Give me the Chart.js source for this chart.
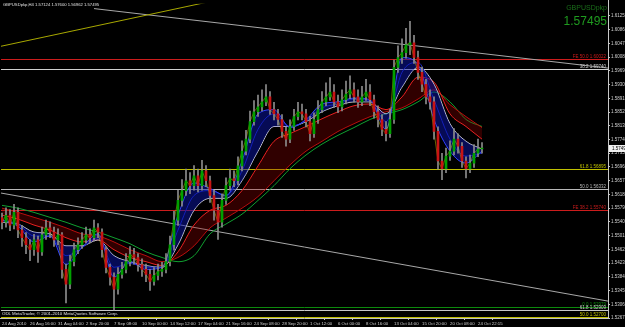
<!DOCTYPE html>
<html lang="en">
<head>
<meta charset="UTF-8">
<title>GBPUSDpkp,H4</title>
<script src="https://cdn.jsdelivr.net/npm/chart.js"></script>
<style>
  html, body { margin: 0; padding: 0; background: #000; }
  #wrap { position: relative; width: 625px; height: 327px; overflow: hidden; }
  .txt { position: absolute; font-family: "Liberation Sans", Arial, sans-serif; white-space: nowrap; line-height: 1; }
  #info { left: 3px; top: 3px; font-size: 4.2px; color: #e0e0e0; }
  #sym { right: 18px; top: 4px; font-size: 7px; color: #1a6e1a; }
  #last { right: 18px; top: 15px; font-size: 12px; color: #1f9a1f; }
  #copy { left: 2px; top: 312px; font-size: 4.4px; color: #e0e0e0; }
</style>
</head>
<body>
<div id="wrap">
  <canvas id="chart"></canvas>
  <div class="txt" id="info">GBPUSDpkp,H4 1.57124 1.57600 1.56962 1.57495</div>
  <div class="txt" id="sym">GBPUSDpkp</div>
  <div class="txt" id="last">1.57495</div>
  <div class="txt" id="copy">ODL MetaTrader, © 2001-2010 MetaQuotes Software Corp.</div>
</div>
<script>
// H4 candles, grouped (each slot ~ 2.3 bars)
const closes = [
  1.5539,1.5559,1.5531,1.5567,1.5517,1.5495,1.5475,1.5461,1.5489,1.5455,
  1.5503,1.5523,1.5511,1.5489,1.5503,1.5405,1.5363,1.5427,1.5461,1.5475,
  1.5489,1.5503,1.5495,1.5523,1.5511,1.5461,1.5411,1.5383,1.5349,1.5391,
  1.5405,1.5427,1.5447,1.5439,1.5419,1.5405,1.5391,1.5371,1.5388,1.5399,
  1.5405,1.5427,1.5475,1.5545,1.5601,1.5629,1.5657,1.5643,1.5671,1.5643,
  1.5685,1.5657,1.5615,1.5573,1.5539,1.5601,1.5643,1.5663,1.5657,1.5699,
  1.5741,1.5775,1.5825,1.5853,1.5867,1.5881,1.5895,1.5859,1.5847,1.5831,
  1.5797,1.5775,1.5811,1.5839,1.5853,1.5847,1.5825,1.5791,1.5831,1.5859,
  1.5881,1.5895,1.5909,1.5881,1.5867,1.5887,1.5903,1.5915,1.5895,1.5881,
  1.5895,1.5909,1.5887,1.5853,1.5831,1.5803,1.5791,1.5831,1.5979,1.6007,
  1.6021,1.6043,1.6049,1.6007,1.5965,1.5931,1.5895,1.5881,1.5797,1.5713,
  1.5691,1.5727,1.5741,1.5775,1.5755,1.5713,1.5691,1.5707,1.5735,1.5747,
  1.57495
];
const highs = [
  1.5565,1.5580,1.5575,1.5590,1.5580,1.5530,1.5510,1.5490,1.5505,1.5500,
  1.5525,1.5545,1.5540,1.5525,1.5520,1.5510,1.5420,1.5445,1.5480,1.5495,
  1.5510,1.5525,1.5520,1.5545,1.5535,1.5520,1.5470,1.5420,1.5395,1.5410,
  1.5425,1.5450,1.5470,1.5465,1.5450,1.5435,1.5420,1.5405,1.5410,1.5420,
  1.5425,1.5450,1.5500,1.5570,1.5630,1.5660,1.5690,1.5680,1.5700,1.5690,
  1.5715,1.5700,1.5670,1.5630,1.5590,1.5620,1.5665,1.5690,1.5685,1.5725,
  1.5770,1.5800,1.5855,1.5885,1.5900,1.5915,1.5930,1.5910,1.5880,1.5860,
  1.5845,1.5810,1.5830,1.5860,1.5880,1.5875,1.5860,1.5840,1.5850,1.5885,
  1.5910,1.5935,1.5950,1.5930,1.5900,1.5915,1.5940,1.5955,1.5935,1.5915,
  1.5925,1.5945,1.5930,1.5900,1.5870,1.5845,1.5825,1.5860,1.6000,1.6040,
  1.6060,1.6090,1.6110,1.6070,1.6025,1.5980,1.5945,1.5915,1.5895,1.5810,
  1.5735,1.5750,1.5770,1.5805,1.5790,1.5765,1.5725,1.5730,1.5760,1.5775,
  1.5765
];
const lows = [
  1.5520,1.5525,1.5515,1.5520,1.5495,1.5470,1.5450,1.5430,1.5445,1.5425,
  1.5445,1.5490,1.5495,1.5470,1.5475,1.5380,1.5310,1.5350,1.5415,1.5450,
  1.5465,1.5480,1.5480,1.5485,1.5495,1.5440,1.5395,1.5360,1.5290,1.5335,
  1.5380,1.5395,1.5415,1.5420,1.5400,1.5385,1.5370,1.5345,1.5360,1.5375,
  1.5385,1.5395,1.5415,1.5460,1.5530,1.5585,1.5615,1.5620,1.5630,1.5625,
  1.5630,1.5640,1.5595,1.5545,1.5490,1.5525,1.5590,1.5630,1.5640,1.5645,
  1.5685,1.5730,1.5765,1.5815,1.5840,1.5855,1.5870,1.5845,1.5830,1.5815,
  1.5780,1.5755,1.5765,1.5800,1.5830,1.5830,1.5810,1.5770,1.5780,1.5820,
  1.5850,1.5870,1.5885,1.5865,1.5850,1.5855,1.5875,1.5890,1.5880,1.5865,
  1.5870,1.5885,1.5870,1.5835,1.5810,1.5785,1.5770,1.5780,1.5820,1.5965,
  1.5990,1.6005,1.6015,1.5990,1.5945,1.5910,1.5875,1.5860,1.5775,1.5690,
  1.5660,1.5680,1.5715,1.5730,1.5735,1.5695,1.5665,1.5680,1.5695,1.5725,
  1.5735
];
const firstOpen = 1.5552;

// moving averages, read every 4th slot
const maBars = [0,4,8,12,16,20,24,28,32,36,40,44,48,52,56,60,64,68,72,76,80,84,88,92,96,100,104,108,112,116,120];
const blueFast = [1.5545,1.5528,1.5483,1.5500,1.5419,1.5467,1.5506,1.5383,1.5427,1.5405,1.5411,1.5559,1.5651,1.5635,1.5615,1.5713,1.5847,1.5859,1.5808,1.5831,1.5875,1.5881,1.5892,1.5887,1.5803,1.6007,1.5987,1.5831,1.5741,1.5707,1.5741];
const blueSlow = [1.5545,1.5534,1.5500,1.5500,1.5444,1.5467,1.5495,1.5411,1.5422,1.5411,1.5411,1.5517,1.5615,1.5629,1.5615,1.5685,1.5803,1.5847,1.5811,1.5828,1.5864,1.5875,1.5889,1.5884,1.5825,1.5965,1.5993,1.5887,1.5775,1.5727,1.5735];
const whiteMa = [1.5539,1.5534,1.5511,1.5506,1.5472,1.5472,1.5489,1.5444,1.5427,1.5416,1.5411,1.5475,1.5573,1.5607,1.5607,1.5657,1.5741,1.5811,1.5811,1.5825,1.5853,1.5870,1.5881,1.5881,1.5847,1.5923,1.5979,1.5931,1.5819,1.5769,1.5747];
const redFast = [1.5559,1.5548,1.5531,1.5517,1.5495,1.5483,1.5489,1.5461,1.5439,1.5427,1.5416,1.5455,1.5531,1.5573,1.5587,1.5629,1.5699,1.5769,1.5791,1.5811,1.5833,1.5853,1.5870,1.5875,1.5859,1.5895,1.5951,1.5937,1.5847,1.5811,1.5775];
const redSlow = [1.5579,1.5567,1.5553,1.5539,1.5523,1.5506,1.5500,1.5483,1.5461,1.5444,1.5427,1.5439,1.5472,1.5523,1.5551,1.5579,1.5612,1.5657,1.5702,1.5741,1.5769,1.5797,1.5819,1.5839,1.5853,1.5864,1.5889,1.5915,1.5873,1.5839,1.5808];
const greenMa = [1.5587,1.5579,1.5567,1.5553,1.5539,1.5523,1.5511,1.5495,1.5478,1.5455,1.5439,1.5427,1.5444,1.5506,1.5534,1.5562,1.5601,1.5643,1.5691,1.5730,1.5761,1.5786,1.5808,1.5831,1.5847,1.5859,1.5881,1.5909,1.5881,1.5831,1.5811];

// trendlines (slot, price)
const trendYellowX = [-0.25, 52];
const trendYellowY = [1.6039, 1.6166];
const trendTopX = [23, 151.5];
const trendTopY = [1.6146, 1.5977];
const trendLowX = [-0.25, 151.5];
const trendLowY = [1.5622, 1.5315];

// fibo / expansion levels
const levelPrices = [1.60022, 1.59740, 1.56895, 1.56332, 1.55740, 1.52979, 1.52909, 1.52700];
const levelNames  = ['FE 50.0', '38.2', '61.8', '50.0', 'FE 38.2', '0.0', '61.8', '50.0'];
const levelColors = ['#cc1c1c', '#d0d0d0', '#c0c000', '#b8b8b8', '#cc1c1c', '#0c8a0c', '#c8c8c8', '#c0c000'];

// axes
const priceTicks = [1.61250,1.60860,1.60470,1.60080,1.59690,1.59300,1.58910,1.58520,1.58130,1.57740,
  1.57350,1.56960,1.56570,1.56180,1.55790,1.55400,1.55010,1.54620,1.54230,1.53840,1.53450,1.53060,1.52670];
const tickBars = [0,7,14,21,28,35,42,49,56,63,70,77,84,91,98,105,112,119];
const dateLabels = ['24 Aug 2010','26 Aug 16:00','31 Aug 04:00','2 Sep 20:00','7 Sep 08:00','10 Sep 00:00',
  '14 Sep 12:00','17 Sep 04:00','21 Sep 16:00','24 Sep 08:00','28 Sep 20:00','1 Oct 12:00','6 Oct 00:00',
  '8 Oct 16:00','13 Oct 04:00','15 Oct 20:00','20 Oct 08:00','24 Oct 22:15'];

const UP = '#00a000', DOWN = '#c81414';
const candleColors = closes.map((c, i) => c >= (i ? closes[i - 1] : firstOpen) ? UP : DOWN);

function maLine(values, color, extra) {
  return Object.assign({
    type: 'line',
    data: maBars.map((b, k) => ({ x: b, y: values[k] })),
    borderColor: color,
    borderWidth: 1,
    pointRadius: 0,
    cubicInterpolationMode: 'monotone',
    fill: false
  }, extra || {});
}
function segment(xs, ys, color) {
  return {
    type: 'line',
    data: xs.map((x, k) => ({ x: x, y: ys[k] })),
    borderColor: color,
    borderWidth: 1,
    pointRadius: 0,
    fill: false
  };
}

const mtPlugin = {
  id: 'mt',
  beforeDraw(chart) {
    const c = chart.ctx;
    c.save();
    c.fillStyle = '#000';
    c.fillRect(0, 0, chart.width, chart.height);
    c.restore();
  },
  beforeDatasetsDraw(chart) {
    const c = chart.ctx, a = chart.chartArea, y = chart.scales.y;
    c.save();
    c.lineWidth = 1;
    levelPrices.forEach((p, i) => {
      const py = Math.round(y.getPixelForValue(p)) + 0.5;
      if (py < a.top || py > a.bottom) return;
      c.strokeStyle = levelColors[i];
      c.beginPath();
      c.moveTo(a.left, py);
      c.lineTo(a.right, py);
      c.stroke();
    });
    c.restore();
  },
  afterDraw(chart) {
    const c = chart.ctx, a = chart.chartArea, y = chart.scales.y;
    c.save();
    c.font = '4.5px "Liberation Sans", Arial, sans-serif';
    c.textAlign = 'right';
    c.textBaseline = 'bottom';
    levelPrices.forEach((p, i) => {
      const py = Math.min(a.bottom + 1, Math.round(y.getPixelForValue(p)));
      c.fillStyle = levelColors[i];
      c.fillText(levelNames[i] + ' ' + p.toFixed(5), a.right - 2, py);
    });
    // last price box
    const last = closes[closes.length - 1];
    const ly = Math.round(y.getPixelForValue(last));
    c.fillStyle = '#f0f0f0';
    c.fillRect(a.right + 1, ly - 3, chart.width - a.right, 7);
    c.fillStyle = '#000';
    c.textAlign = 'left';
    c.textBaseline = 'middle';
    c.fillText(last.toFixed(5), a.right + 4, ly + 0.5);
    // frame
    c.strokeStyle = '#c8c8c8';
    c.lineWidth = 1;
    c.beginPath();
    c.moveTo(a.right + 0.5, 0);
    c.lineTo(a.right + 0.5, a.bottom + 0.5);
    c.lineTo(0, a.bottom + 0.5);
    c.stroke();
    c.restore();
  }
};

Chart.defaults.font.family = '"Liberation Sans", Arial, sans-serif';

new Chart(document.getElementById('chart'), {
  type: 'bar',
  data: {
    datasets: [
      {
        type: 'bar',
        data: closes.map((c, i) => ({ x: i, y: [i ? closes[i - 1] : firstOpen, c] })),
        backgroundColor: candleColors,
        barThickness: 2,
        grouped: false,
        minBarLength: 1
      },
      {
        type: 'bar',
        data: closes.map((c, i) => ({ x: i, y: [lows[i], highs[i]] })),
        backgroundColor: '#8c8c8c',
        barThickness: 1,
        grouped: false
      },
      {
        type: 'line',
        data: closes.map((c, i) => ({ x: i, y: c })),
        borderColor: 'rgba(225,225,0,0.45)',
        borderWidth: 1,
        pointRadius: 0,
        fill: false
      },
      maLine(blueFast, '#3040ff', { fill: { target: 5, above: 'rgba(12,22,170,0.5)', below: 'rgba(12,22,170,0.5)' } }),
      maLine(blueSlow, '#1a28c8'),
      maLine(whiteMa, '#d8d8d8'),
      maLine(redFast, '#e82020', { fill: { target: 7, above: 'rgba(150,0,0,0.32)', below: 'rgba(150,0,0,0.32)' } }),
      maLine(redSlow, '#c01010'),
      maLine(greenMa, '#10a030'),
      segment(trendYellowX, trendYellowY, '#a8a800'),
      segment(trendTopX, trendTopY, '#a8a8a8'),
      segment(trendLowX, trendLowY, '#a8a8a8')
    ]
  },
  options: {
    responsive: true,
    maintainAspectRatio: false,
    animation: false,
    layout: { padding: { left: 1, top: 1, right: 0, bottom: 0 } },
    plugins: { legend: { display: false }, tooltip: { enabled: false } },
    scales: {
      x: {
        type: 'linear',
        position: 'bottom',
        min: -0.25,
        max: 151.5,
        offset: false,
        afterBuildTicks: s => { s.ticks = tickBars.map(v => ({ value: v })); },
        afterFit: s => { s.height = 9; },
        grid: { drawOnChartArea: false, drawTicks: true, tickLength: 2, color: '#c8c8c8' },
        border: { display: false },
        ticks: {
          autoSkip: false,
          maxRotation: 0,
          align: 'start',
          padding: 1,
          color: '#d0d0d0',
          font: { size: 4.3 },
          callback: v => { const k = tickBars.indexOf(v); return k >= 0 ? dateLabels[k] : ''; }
        }
      },
      y: {
        position: 'right',
        min: 1.52670,
        max: 1.61599,
        afterBuildTicks: s => { s.ticks = priceTicks.map(v => ({ value: v })); },
        afterFit: s => { s.width = 17; },
        grid: { drawOnChartArea: false, drawTicks: true, tickLength: 2, color: '#c8c8c8' },
        border: { display: false },
        ticks: {
          autoSkip: false,
          padding: 1,
          color: '#d0d0d0',
          font: { size: 4.5 },
          callback: v => Number(v).toFixed(5)
        }
      }
    }
  },
  plugins: [mtPlugin]
});
</script>
</body>
</html>
